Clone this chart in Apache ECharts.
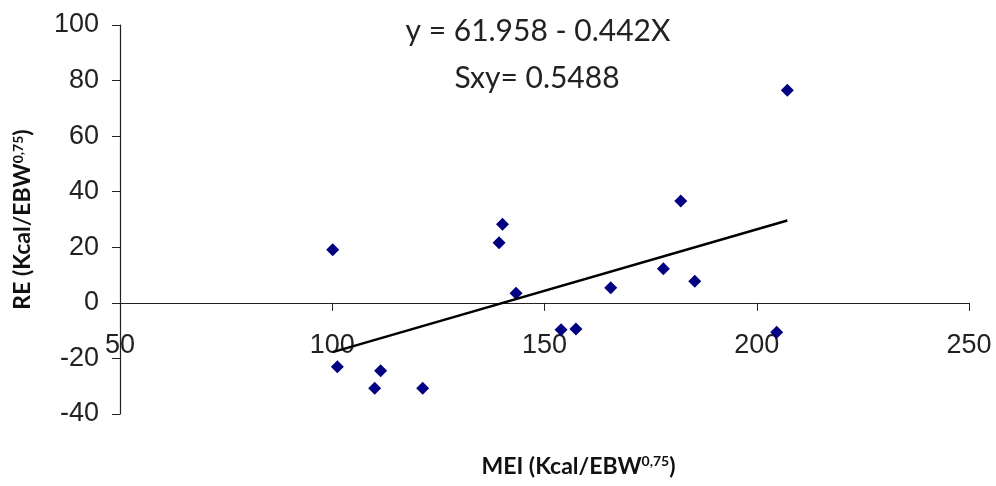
<!DOCTYPE html>
<html lang="en">
  <head>
    <meta charset="UTF-8" />
    <title>RE vs MEI</title>
    <script src="https://cdn.jsdelivr.net/npm/echarts@6/dist/echarts.min.js"></script>
    <style>
      body { margin: 0; background: #fff; }
    </style>
  </head>
  <body>
    <div id="main" style="width: 996px; height: 486px"></div>
    <script type="text/javascript">
      // data
      let mei = [100.1, 101.2, 110, 111.4, 121.3, 139.3, 140.1, 143.3, 153.9, 157.4, 165.6, 178, 182.1, 185.4, 204.7, 207.2];
      let re = [19.1, -23.0, -30.7, -24.4, -30.7, 21.6, 28.3, 3.5, -9.7, -9.4, 5.4, 12.3, 36.7, 7.8, -10.6, 76.5];

      // fitted line as printed on the chart
      let intercept = -61.958;
      let slope = 0.442;
      let eqText = "y = 61.958 - 0.442X";
      let sxyText = "Sxy= 0.5488";

      let points = mei.map((x, i) => [x, re[i]]);
      let xMin = Math.min(...mei);
      let xMax = Math.max(...mei);
      let trend = [
        [xMin, intercept + slope * xMin],
        [xMax, intercept + slope * xMax],
      ];

      let labelFont = { fontFamily: "Liberation Sans", fontSize: 27, color: "#222" };
      let nameRich = {
        b: { fontFamily: "Lato", fontWeight: "bold", fontSize: 23, color: "#111" },
        s: { fontFamily: "Lato", fontWeight: "bold", fontSize: 14, color: "#111", verticalAlign: "top" },
      };

      // grid: 25 top, 414 bottom -> value 0 sits ~111 px above the bottom edge
      let gridTop = 25;
      let gridBottom = 414;
      let zeroShift = -((gridBottom - gridTop) * 40) / 140;

      let options = {
        animation: false,
        grid: { left: 120, right: 27, top: gridTop, bottom: 486 - gridBottom, containLabel: false, outerBoundsMode: "none" },
        graphic: [
          {
            type: "text",
            x: 538,
            y: 31,
            style: { text: eqText, font: "30px Lato", fill: "#222", textAlign: "center", textVerticalAlign: "middle" },
          },
          {
            type: "text",
            x: 537,
            y: 78,
            style: { text: sxyText, font: "30px Lato", fill: "#222", textAlign: "center", textVerticalAlign: "middle" },
          },
        ],
        xAxis: {
          type: "value",
          min: 50,
          max: 250,
          interval: 50,
          offset: zeroShift,
          splitLine: { show: false },
          axisLine: { onZero: false, lineStyle: { color: "#222", width: 1.2 } },
          axisTick: { show: true, length: 8, lineStyle: { color: "#222" } },
          axisLabel: { ...labelFont, margin: 29 },
          name: "{b|MEI (Kcal/EBW}{s|0,75}{b|)}",
          nameLocation: "middle",
          nameGap: 152,
          nameTextStyle: { padding: [0, 0, 0, 68], rich: nameRich },
        },
        yAxis: {
          type: "value",
          min: -40,
          max: 100,
          interval: 20,
          splitLine: { show: false },
          axisLine: { show: true, onZero: false, lineStyle: { color: "#222", width: 1.2 } },
          axisTick: { show: true, length: 8, lineStyle: { color: "#222" } },
          axisLabel: { ...labelFont, margin: 21 },
          name: "{b|RE (Kcal/EBW}{s|0,75}{b|)}",
          nameLocation: "middle",
          nameGap: 86,
          nameTextStyle: { rich: nameRich },
        },
        series: [
          {
            name: "RE",
            type: "scatter",
            symbol: "diamond",
            symbolSize: 13,
            itemStyle: { color: "#000080", opacity: 1 },
            data: points,
          },
          {
            name: "trend",
            type: "line",
            symbol: "none",
            lineStyle: { color: "#000", width: 2.5 },
            data: trend,
          },
        ],
      };

      let myChart = echarts.init(document.getElementById("main"));
      myChart.setOption(options);
    </script>
  </body>
</html>
